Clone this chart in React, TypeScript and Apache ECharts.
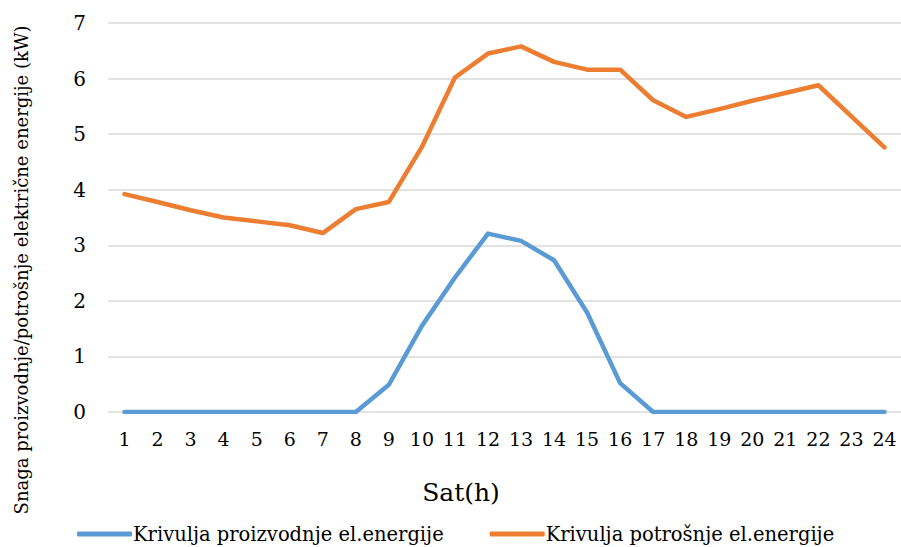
import React, { useEffect, useRef } from "react";
import * as echarts from "echarts";

const hours = ["1","2","3","4","5","6","7","8","9","10","11","12","13","14","15","16","17","18","19","20","21","22","23","24"];
const production = [0,0,0,0,0,0,0,0,0.49,1.55,2.42,3.21,3.08,2.73,1.79,0.52,0,0,0,0,0,0,0,0];
const consumption = [3.92,3.78,3.63,3.50,3.43,3.36,3.22,3.65,3.78,4.77,6.02,6.45,6.58,6.30,6.16,6.16,5.61,5.31,5.45,5.60,5.74,5.88,5.32,4.76];
const seriesNames = ["Krivulja proizvodnje el.energije", "Krivulja potrošnje el.energije"];
const yAxisTitle = "Snaga proizvodnje/potrošnje električne energije (kW)";
const xAxisTitle = "Sat(h)";

const FONT = "DejaVu Serif";

export default function App() {
  const ref = useRef<HTMLDivElement>(null);
  useEffect(() => {
    if (!ref.current) return;
    const chart = echarts.init(ref.current, undefined, { renderer: "svg" });
    chart.setOption({
      animation: false,
      textStyle: { fontFamily: FONT },
      grid: { left: 108, right: -4, top: 23, bottom: 135 },
      legend: {
        left: 72,
        top: 519,
        itemWidth: 55,
        itemHeight: 5,
        itemGap: 46,
        icon: "roundRect",
        textStyle: { fontFamily: FONT, fontSize: 19.5, color: "#000", padding: [0, 0, 0, -4] },
        data: seriesNames,
      },
      xAxis: {
        type: "category",
        data: hours,
        boundaryGap: true,
        axisLine: { show: false },
        axisTick: { show: false },
        axisLabel: { fontFamily: FONT, fontSize: 19, color: "#000", margin: 17 },
      },
      yAxis: {
        type: "value",
        min: 0,
        max: 7,
        interval: 1,
        axisLine: { show: false },
        axisTick: { show: false },
        axisLabel: { fontFamily: FONT, fontSize: 20, color: "#000", margin: 22 },
        splitLine: { lineStyle: { color: "#D9D9D9", width: 1.5 } },
      },
      graphic: [
        {
          type: "text",
          x: 21,
          y: 270,
          rotation: Math.PI / 2,
          style: {
            text: yAxisTitle,
            fontFamily: FONT,
            fontSize: 18,
            fill: "#000",
            align: "center",
            verticalAlign: "middle",
          },
        },
        {
          type: "text",
          x: 461,
          y: 492,
          style: {
            text: xAxisTitle,
            fontFamily: FONT,
            fontSize: 25,
            fill: "#000",
            align: "center",
            verticalAlign: "middle",
          },
        },
      ],
      series: [
        {
          name: seriesNames[0],
          type: "line",
          data: production,
          symbol: "none",
          lineStyle: { color: "#5B9BD5", width: 4.5, cap: "round", join: "round" },
          itemStyle: { color: "#5B9BD5" },
        },
        {
          name: seriesNames[1],
          type: "line",
          data: consumption,
          symbol: "none",
          lineStyle: { color: "#ED7D31", width: 4.5, cap: "round", join: "round" },
          itemStyle: { color: "#ED7D31" },
        },
      ],
    });
    return () => chart.dispose();
  }, []);
  return <div ref={ref} style={{ width: 901, height: 547, position: "absolute", left: 0, top: 0 }} />;
}
